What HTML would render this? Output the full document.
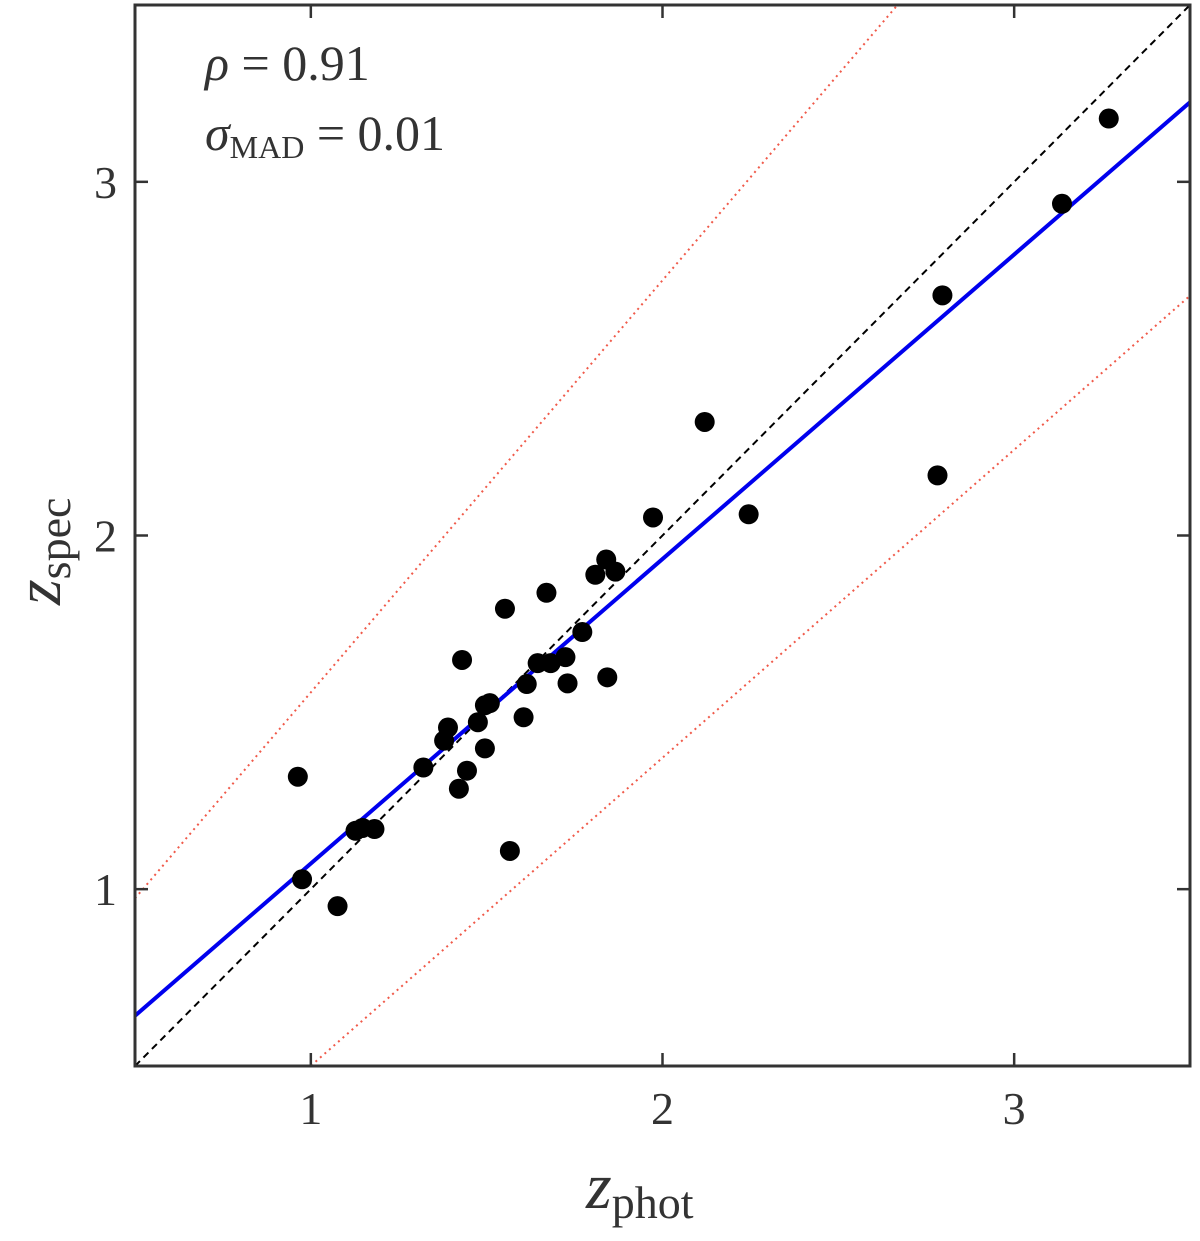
<!DOCTYPE html>
<html><head><meta charset="utf-8"><style>
body{margin:0;background:#fff}
svg{display:block;font-family:"Liberation Serif",serif}
</style></head><body>
<svg id="chart" width="1200" height="1241" viewBox="0 0 1200 1241" xmlns="http://www.w3.org/2000/svg"></svg>
<script>
const xTicks=[1,2,3];
const yTicks=[1,2,3];
const zPhot=[0.963,0.975,1.076,1.127,1.147,1.181,1.320,1.379,1.390,1.421,1.430,1.444,1.475,1.495,1.495,1.509,1.552,1.566,1.605,1.614,1.645,1.670,1.682,1.724,1.730,1.772,1.809,1.840,1.843,1.866,1.973,2.120,2.245,2.782,2.796,3.136,3.269];
const zSpec=[1.318,1.028,0.952,1.165,1.173,1.170,1.344,1.420,1.457,1.284,1.648,1.335,1.472,1.398,1.520,1.526,1.793,1.108,1.486,1.580,1.639,1.838,1.639,1.656,1.582,1.727,1.889,1.932,1.599,1.898,2.051,2.321,2.060,2.170,2.679,2.938,3.179];
const fitLine=[0.642,0.861];
const upperLine=[0.974,1.165];
const lowerLine=[0.065,0.871];
const xDomain=[0.5,3.5], yDomain=[0.5,3.5];
const L=135,R=1190,T=5,B=1066;
const sx=v=>L+(v-xDomain[0])/(xDomain[1]-xDomain[0])*(R-L);
const sy=v=>B-(v-yDomain[0])/(yDomain[1]-yDomain[0])*(B-T);
const svg=document.getElementById('chart');
const NS='http://www.w3.org/2000/svg';
function mk(tag,attrs,parent){const e=document.createElementNS(NS,tag);for(const k in attrs)e.setAttribute(k,attrs[k]);(parent||svg).appendChild(e);return e;}
const defs=mk('defs',{});
const cp=mk('clipPath',{id:'clip'},defs);mk('rect',{x:L,y:T,width:R-L,height:B-T},cp);
const g=mk('g',{'clip-path':'url(#clip)'});
function line(a,b,st){const x0=xDomain[0],x1=xDomain[1];return mk('line',Object.assign({x1:sx(x0),y1:sy(a+b*(x0-0.5)),x2:sx(x1),y2:sy(a+b*(x1-0.5))},st),g);}
let e;
e=line(0.5,1,{stroke:'#000','stroke-width':2,'stroke-dasharray':'7,5',fill:'none'});

e=line(upperLine[0],upperLine[1],{stroke:'#f05a4a','stroke-width':2,'stroke-dasharray':'2,4',fill:'none'});

e=line(lowerLine[0],lowerLine[1],{stroke:'#f05a4a','stroke-width':2,'stroke-dasharray':'2,4',fill:'none'});

e=line(fitLine[0],fitLine[1],{stroke:'#0000ee','stroke-width':4,fill:'none'});

for(let i=0;i<zPhot.length;i++){
  e=mk('circle',{cx:sx(zPhot[i]),cy:sy(zSpec[i]),r:10,fill:'#000'},g);
  
  
}
e=mk('rect',{x:L,y:T,width:R-L,height:B-T,fill:'none',stroke:'#333','stroke-width':3});

xTicks.forEach(v=>{
  mk('line',{x1:sx(v),x2:sx(v),y1:B,y2:B-13,stroke:'#333','stroke-width':2.5});
  mk('line',{x1:sx(v),x2:sx(v),y1:T,y2:T+13,stroke:'#333','stroke-width':2.5});
  e=mk('text',{x:sx(v),y:1124,'font-size':46,'text-anchor':'middle',fill:'#333'});e.textContent=v;
  
});
yTicks.forEach(v=>{
  mk('line',{x1:L,x2:L+13,y1:sy(v),y2:sy(v),stroke:'#333','stroke-width':2.5});
  mk('line',{x1:R,x2:R-13,y1:sy(v),y2:sy(v),stroke:'#333','stroke-width':2.5});
  e=mk('text',{x:117,y:sy(v)+16,'font-size':46,'text-anchor':'end',fill:'#333'});e.textContent=v;
  
});
</script>
<svg style="position:absolute;left:0;top:0" width="1200" height="1241" xmlns="http://www.w3.org/2000/svg" font-family="Liberation Serif, serif" fill="#333">
<text x="586" y="1208" font-size="66"><tspan font-style="italic">z</tspan><tspan font-size="46" dy="10">phot</tspan></text>
<g transform="translate(60,605) rotate(-90)"><text x="0" y="0" font-size="66"><tspan font-style="italic">z</tspan><tspan font-size="46" dy="10">spec</tspan></text></g>
<text x="205" y="80" font-size="50"><tspan font-style="italic">ρ</tspan> = 0.91</text>
<text x="205" y="150" font-size="50"><tspan font-style="italic">σ</tspan><tspan font-size="32" dy="8">MAD</tspan><tspan dy="-8"> = 0.01</tspan></text>
</svg>
</body></html>
